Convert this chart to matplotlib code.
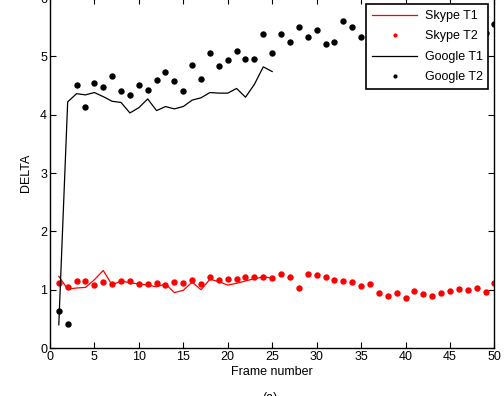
import matplotlib.pyplot as plt
import numpy as np

plt.rcParams['font.family'] = ['Liberation Sans', 'DejaVu Sans']

frames = np.arange(1, 51)
frames_t1 = np.arange(1, 26)

# Skype T1 (line, frames 1-25)
skype_t1 = [1.23, 1.01, 1.03, 1.04, 1.17, 1.33, 1.08, 1.15, 1.12, 1.10,
            1.08, 1.05, 1.10, 0.95, 0.99, 1.13, 1.00, 1.18, 1.14, 1.08,
            1.11, 1.15, 1.19, 1.22, 1.20]

# Skype T2 (dots, frames 1-50)
skype_t2 = [1.12, 1.04, 1.15, 1.15, 1.08, 1.14, 1.10, 1.15, 1.15, 1.10,
            1.10, 1.12, 1.08, 1.14, 1.12, 1.17, 1.10, 1.22, 1.17, 1.19,
            1.19, 1.22, 1.22, 1.22, 1.20, 1.27, 1.21, 1.03, 1.27, 1.25,
            1.21, 1.17, 1.15, 1.14, 1.07, 1.10, 0.95, 0.89, 0.95, 0.85,
            0.98, 0.93, 0.89, 0.95, 0.98, 1.01, 0.99, 1.03, 0.96, 1.12]

# Google T1 (line, frames 1-25)
google_t1 = [0.40, 4.22, 4.36, 4.34, 4.38, 4.31, 4.23, 4.21, 4.03, 4.12,
             4.27, 4.07, 4.14, 4.10, 4.14, 4.25, 4.29, 4.38, 4.37, 4.37,
             4.45, 4.30, 4.52, 4.82, 4.74]

# Google T2 (dots, frames 1-50); 37-49 sit behind the legend
google_t2 = [0.63, 0.42, 4.51, 4.14, 4.55, 4.48, 4.67, 4.40, 4.34, 4.51,
             4.43, 4.59, 4.74, 4.57, 4.40, 4.85, 4.61, 5.06, 4.83, 4.94,
             5.10, 4.96, 4.96, 5.38, 5.05, 5.38, 5.24, 5.50, 5.34, 5.45,
             5.22, 5.24, 5.61, 5.50, 5.34, 5.19, 5.30, 5.40, 5.35, 5.45,
             5.30, 5.40, 5.50, 5.35, 5.45, 5.40, 5.50, 5.45, 5.40, 5.56]

fig = plt.figure(figsize=(5.04, 3.96), dpi=100)
ax = fig.add_axes([0.099, 0.121, 0.882, 0.884])

ax.plot(frames_t1, skype_t1, color='red', lw=0.9, label='Skype T1')
ax.plot(frames, skype_t2, 'o', color='red', ms=4.6, mec='none', label='Skype T2')
ax.plot(frames_t1, google_t1, color='black', lw=0.9, label='Google T1')
ax.plot(frames, google_t2, 'o', color='black', ms=4.6, mec='none', label='Google T2')

ax.set_xlim(0, 50)
ax.set_ylim(0, 6)
ax.set_xticks(np.arange(0, 51, 5))
ax.set_yticks(np.arange(0, 7, 1))
ax.tick_params(direction='in', top=True, right=True, length=4, width=0.8,
               labelsize=9, pad=2)
for s in ax.spines.values():
    s.set_linewidth(1.0)

ax.set_xlabel('Frame number', fontsize=9, labelpad=2)
ax.set_ylabel('DELTA', fontsize=9, labelpad=6)

leg = ax.legend(loc='upper right', fontsize=9, frameon=True, fancybox=False,
                borderaxespad=0.5, handlelength=3.6, markerscale=0.65,
                labelspacing=0.68, borderpad=0.45, handletextpad=0.6)
leg.get_frame().set_edgecolor('black')
leg.get_frame().set_linewidth(1.2)
leg.get_frame().set_alpha(1)

fig.text(0.535, 0.009, '(a)', fontsize=9, ha='center', va='top')

fig.savefig('out.png', dpi=100)
